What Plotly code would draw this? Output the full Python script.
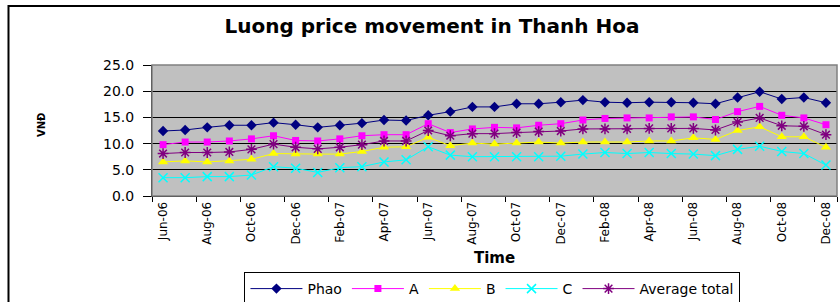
import plotly.graph_objects as go

months = ["Jun-06", "Jul-06", "Aug-06", "Sep-06", "Oct-06", "Nov-06", "Dec-06",
          "Jan-07", "Feb-07", "Mar-07", "Apr-07", "May-07", "Jun-07", "Jul-07",
          "Aug-07", "Sep-07", "Oct-07", "Nov-07", "Dec-07", "Jan-08", "Feb-08",
          "Mar-08", "Apr-08", "May-08", "Jun-08", "Jul-08", "Aug-08", "Sep-08",
          "Oct-08", "Nov-08", "Dec-08"]
tick_labels = months[::2]

phao = [12.4, 12.6, 13.1, 13.5, 13.5, 14.0, 13.6, 13.1, 13.5, 13.9, 14.5,
        14.4, 15.4, 16.1, 17.0, 17.0, 17.6, 17.6, 17.9, 18.3, 17.9, 17.8,
        17.9, 17.9, 17.8, 17.6, 18.8, 19.9, 18.5, 18.8, 17.8]
grade_a = [9.8, 10.3, 10.3, 10.5, 10.9, 11.5, 10.6, 10.5, 10.9, 11.5, 11.7,
           11.7, 13.8, 12.1, 12.8, 13.1, 13.0, 13.5, 13.8, 14.5, 14.8, 14.9,
           14.9, 15.1, 15.1, 14.6, 16.1, 17.1, 15.4, 14.9, 13.6]
grade_b = [6.5, 6.7, 6.5, 6.7, 7.0, 8.1, 8.0, 8.0, 8.0, 8.5, 9.3,
           9.4, 11.2, 9.6, 10.1, 9.9, 10.1, 10.3, 10.1, 10.3, 10.3, 10.3,
           10.5, 10.5, 11.1, 10.8, 12.5, 13.2, 11.3, 11.3, 9.3]
grade_c = [3.5, 3.5, 3.7, 3.7, 4.0, 5.6, 5.3, 4.5, 5.4, 5.6, 6.5,
           6.9, 9.4, 7.8, 7.5, 7.5, 7.5, 7.5, 7.6, 8.0, 8.3, 8.1,
           8.3, 8.1, 8.0, 7.7, 8.9, 9.5, 8.5, 8.1, 5.9]
average_total = [8.1, 8.3, 8.3, 8.4, 8.9, 9.9, 9.3, 9.0, 9.3, 9.8, 10.5,
                 10.5, 12.5, 11.5, 11.9, 11.9, 12.1, 12.3, 12.4, 12.8, 12.8, 12.8,
                 12.9, 12.9, 12.9, 12.6, 14.1, 14.9, 13.4, 13.3, 11.7]

FONT = "DejaVu Sans"

fig = go.Figure()
fig.add_trace(go.Scatter(x=months, y=phao, name="Phao", mode="lines+markers",
                         line=dict(color="#000080", width=1),
                         marker=dict(symbol="diamond", size=8, color="#000080")))
fig.add_trace(go.Scatter(x=months, y=grade_a, name="A", mode="lines+markers",
                         line=dict(color="#FF00FF", width=1),
                         marker=dict(symbol="square", size=7, color="#FF00FF")))
fig.add_trace(go.Scatter(x=months, y=grade_b, name="B", mode="lines+markers",
                         line=dict(color="#FFFF00", width=1),
                         marker=dict(symbol="triangle-up", size=9, color="#FFFF00")))
fig.add_trace(go.Scatter(x=months, y=grade_c, name="C", mode="lines+markers",
                         line=dict(color="#00FFFF", width=1),
                         marker=dict(symbol="x-thin", size=9,
                                     line=dict(color="#00FFFF", width=1.5))))
fig.add_trace(go.Scatter(x=months, y=average_total, name="Average total",
                         mode="lines+markers",
                         line=dict(color="#800080", width=1),
                         marker=dict(symbol="asterisk", size=9,
                                     line=dict(color="#800080", width=1.5))))

fig.update_layout(
    width=840, height=302, autosize=False,
    margin=dict(l=152, r=3, t=65, b=106, pad=0, autoexpand=False),
    paper_bgcolor="white", plot_bgcolor="#C0C0C0",
    font=dict(family=FONT, color="black"),
    title=dict(text="<b>Luong price movement in Thanh Hoa</b>",
               font=dict(family=FONT, size=20, color="black"),
               x=432 / 840, xanchor="center", y=1 - 26 / 302, yanchor="middle"),
    showlegend=True,
    legend=dict(orientation="h", x=0.497, xanchor="center",
                yref="container", y=1 - 272 / 302, yanchor="top",
                bordercolor="black", borderwidth=1, bgcolor="white",
                font=dict(family=FONT, size=14, color="black"),
                traceorder="normal", itemwidth=52, tracegroupgap=0),
    xaxis=dict(type="category", categoryorder="array", categoryarray=months,
               range=[-0.5, 30.5], showline=True, linecolor="black", linewidth=1,
               tickmode="array", tickvals=tick_labels, ticktext=tick_labels,
               tickangle=-90, ticks="outside", ticklen=5, tickcolor="black",
               tickson="boundaries", showgrid=False, zeroline=False,
               automargin=False,
               tickfont=dict(family=FONT, size=12, color="black"),
               title=dict(text="<b>Time</b>", font=dict(family=FONT, size=15, color="black"),
                          standoff=8)),
    yaxis=dict(range=[0, 25], dtick=5, tick0=0, tickformat=".1f",
               showline=True, linecolor="black", linewidth=1,
               ticks="outside", ticklen=8, tickcolor="black",
               showgrid=True, gridcolor="black", gridwidth=1, zeroline=False,
               ticklabelstandoff=6, automargin=False,
               tickfont=dict(family=FONT, size=14, color="black")),
    shapes=[
        dict(type="rect", xref="paper", yref="paper", x0=0, x1=1, y0=0, y1=1,
             line=dict(color="#808080", width=1.5), layer="above"),
        dict(type="rect", xref="paper", yref="paper",
             x0=-0.2095, x1=1.03, y0=-0.9, y1=1.4504,
             line=dict(color="black", width=2), layer="above"),
    ],
    annotations=[
        dict(text="<b>VNĐ</b>", xref="paper", yref="paper",
             x=(41 - 152) / 685, y=(196 - 124) / 131, textangle=-90,
             showarrow=False, font=dict(family=FONT, size=10, color="black"),
             xanchor="center", yanchor="middle"),
    ],
)

fig.write_html("out.html", config={"displayModeBar": False},
               post_script="document.body.style.margin='0';")
